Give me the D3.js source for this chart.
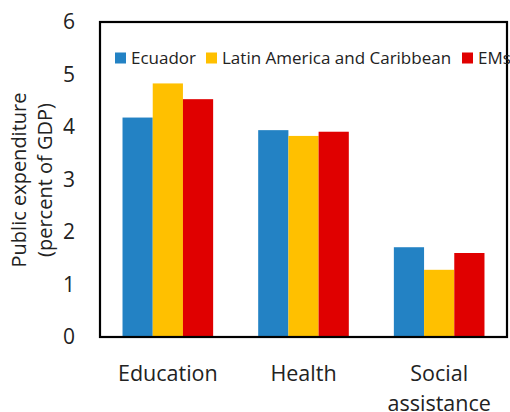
<!DOCTYPE html>
<html><head><meta charset="utf-8">
<script src="https://cdn.jsdelivr.net/npm/d3@7"></script>
<style>body{margin:0;background:#fff}svg{display:block}text{font-family:"Open Sans","Noto Sans",sans-serif;fill:#222}</style>
</head><body><svg id="c" width="510" height="412"></svg>
<script>
const categories = ["Education", "Health", "Social assistance"];
const seriesNames = ["Ecuador", "Latin America and Caribbean", "EMs"];
const ecuador = [4.18, 3.94, 1.71];
const latam = [4.83, 3.83, 1.28];
const ems = [4.53, 3.91, 1.60];
const yTicks = [0, 1, 2, 3, 4, 5, 6];
const colors = ["#2382c4", "#ffc000", "#e00000"];

const series = [ecuador, latam, ems];
const svg = d3.select("#c");
const m = {l: 100, r: 507, t: 22, b: 337};
const x = d3.scaleBand().domain(categories).range([m.l, m.r]).paddingInner(0.332).paddingOuter(0.166);
const xs = d3.scaleBand().domain(d3.range(3)).range([0, x.bandwidth()]);
const y = d3.scaleLinear().domain([0, 6]).range([m.b, m.t]);

// bars
categories.forEach((c, i) => {
  series.forEach((s, j) => {
    svg.append("rect").attr("x", x(c) + xs(j)).attr("width", xs.bandwidth())
      .attr("y", y(s[i])).attr("height", y(0) - y(s[i])).attr("fill", colors[j]);
  });
});

// plot frame
svg.append("rect").attr("class", "frame")
  .attr("x", m.l).attr("y", m.t).attr("width", m.r - m.l).attr("height", m.b - m.t)
  .attr("fill", "none").attr("stroke", "#000000").attr("stroke-width", 2.2);

// y axis
const ya = svg.append("g").attr("transform", `translate(${m.l},0)`)
  .call(d3.axisLeft(y).tickValues(yTicks).tickFormat(d3.format("d")).tickSize(0).tickPadding(25));
ya.select(".domain").remove();
ya.selectAll("text").attr("font-size", 21).style("font-family", "'Open Sans','Noto Sans',sans-serif").attr("fill", "#222");

// x axis labels
categories.forEach(c => {
  const words = c === "Social assistance" ? ["Social", "assistance"] : [c];
  const cx = x(c) + x.bandwidth() / 2;
  const t = svg.append("text").attr("x", cx).attr("y", 381)
    .attr("text-anchor", "middle").attr("font-size", 21.5);
  words.forEach((w, k) => t.append("tspan").attr("x", cx).attr("dy", k ? 29.5 : 0).text(w));
});

// y title
const yt = svg.append("text").attr("transform", "translate(0,180) rotate(-90)").attr("text-anchor", "middle").attr("font-size", 20);
yt.append("tspan").attr("x", 0).attr("y", 26).text("Public expenditure");
yt.append("tspan").attr("x", 0).attr("y", 52).text("(percent of GDP)");

// legend
const legendX = [115, 206, 462];
seriesNames.forEach((n, j) => {
  svg.append("rect").attr("x", legendX[j]).attr("y", 52.5).attr("width", 11).attr("height", 11).attr("fill", colors[j]);
  svg.append("text").attr("x", legendX[j] + 16).attr("y", 64).attr("font-size", 17).text(n);
});
</script></body></html>
